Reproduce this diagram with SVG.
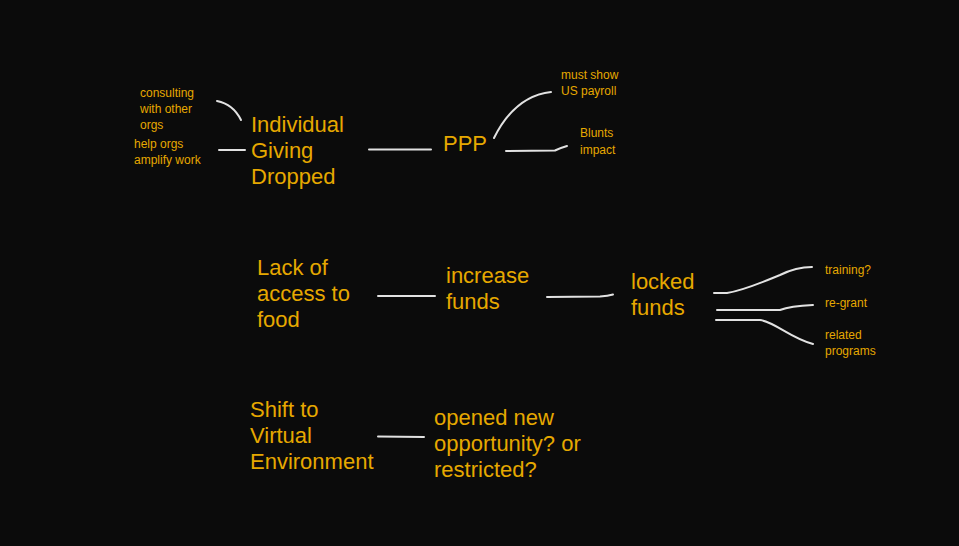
<svg xmlns="http://www.w3.org/2000/svg" width="959" height="546" viewBox="0 0 959 546">
<style>
text{font-family:"Liberation Sans",Arial,sans-serif;fill:#e6a800}
.L{font-size:22px}
.S{font-size:12px}
.c{fill:none;stroke:#e2e2e2;stroke-width:2;stroke-linecap:round}
</style>
<rect width="959" height="546" fill="#0b0b0b"/>
<g id="connectors">
<path class="c" d="M217,101 Q233,104 241,120"/>
<path class="c" d="M219,150 L245,150"/>
<path class="c" d="M369,149.5 L431,149.5"/>
<path class="c" d="M494,138 Q515,96 551,92"/>
<path class="c" d="M506,151 L555,150.5 Q560,148 567,146"/>
<path class="c" d="M378,296 L435,296"/>
<path class="c" d="M547,297 L600,296.5 Q608,296 613,294.5"/>
<path class="c" d="M714,293 L727,293 C745,290 765,281 780,275 C790,270 800,267 812,267"/>
<path class="c" d="M717,310 L780,310 Q790,306 813,305"/>
<path class="c" d="M716,320 L760,320 C775,322 790,338 813,344"/>
<path class="c" d="M378,436.5 L424,437"/>
</g>
<g id="n-individual"><text class="L" x="251" y="132">Individual</text><text class="L" x="251" y="158">Giving</text><text class="L" x="251" y="184">Dropped</text></g>
<g id="n-consulting"><text class="S" x="140" y="97">consulting</text><text class="S" x="140" y="113">with other</text><text class="S" x="140" y="129">orgs</text></g>
<g id="n-help"><text class="S" x="134" y="148">help orgs</text><text class="S" x="134" y="164">amplify work</text></g>
<g id="n-ppp"><text class="L" x="443" y="151">PPP</text></g>
<g id="n-payroll"><text class="S" x="561" y="79">must show</text><text class="S" x="561" y="95">US payroll</text></g>
<g id="n-blunts"><text class="S" x="580" y="137">Blunts</text><text class="S" x="580" y="154">impact</text></g>
<g id="n-lack"><text class="L" x="257" y="275">Lack of</text><text class="L" x="257" y="301">access to</text><text class="L" x="257" y="327">food</text></g>
<g id="n-increase"><text class="L" x="446" y="283">increase</text><text class="L" x="446" y="309">funds</text></g>
<g id="n-locked"><text class="L" x="631" y="289">locked</text><text class="L" x="631" y="315">funds</text></g>
<g id="n-training"><text class="S" x="825" y="274">training?</text></g>
<g id="n-regrant"><text class="S" x="825" y="307">re-grant</text></g>
<g id="n-related"><text class="S" x="825" y="339">related</text><text class="S" x="825" y="355">programs</text></g>
<g id="n-shift"><text class="L" x="250" y="417">Shift to</text><text class="L" x="250" y="443">Virtual</text><text class="L" x="250" y="469">Environment</text></g>
<g id="n-opened"><text class="L" x="434" y="425">opened new</text><text class="L" x="434" y="451">opportunity? or</text><text class="L" x="434" y="477">restricted?</text></g>
</svg>
